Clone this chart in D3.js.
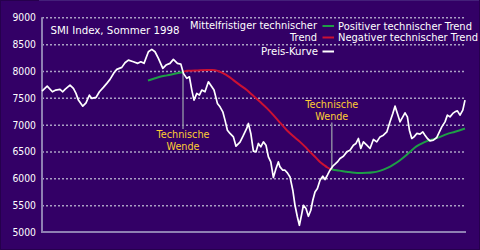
<!DOCTYPE html>
<html><head><meta charset="utf-8">
<script src="https://cdn.jsdelivr.net/npm/d3@7/dist/d3.min.js"></script>
<style>html,body{margin:0;padding:0;background:#330066;overflow:hidden}svg{display:block}</style>
</head><body><svg id="c" width="480" height="250"></svg>
<script>
// ---- data ----
const chartTitle = "SMI Index, Sommer 1998";
const yTickValues = [5000, 5500, 6000, 6500, 7000, 7500, 8000, 8500, 9000];
const priceDays = [0,2.6,5.2,6.9,9,10.4,11.5,14,15.7,17,18.2,20.4,22,23.7,24.9,27,28.7,30.7,32.4,34,36,37.4,39.9,41.5,43.2,45.7,47.9,49.4,51,53.2,54.9,56.5,58.2,60.4,62,64,65.7,67.7,69.4,70.7,72.4,73.7,74.9,76,77.4,78.7,79.9,81.5,83.2,84.9,86,87.7,89,90.4,91.5,92.7,94,95.7,97,99,100.5,102.4,103.2,104.4,105.7,107,108.2,109.4,110.7,112,113.2,114.4,115.7,117,118.2,119,120.4,121.5,122.7,124,125.4,126.5,127.7,128.7,129.9,130.7,132,133.2,134.4,135.4,136.5,137.7,139,140.4,141.5,142.7,144,145.4,146.5,147.7,149,150.7,152.4,154,155.7,157,158.2,159.4,160.7,162.4,164,165.7,167.4,169,170.7,172.4,174,175.4,176.5,177.7,179,180.4,181.5,182.7,183.7,184.9,186,187.4,189,190.4,191.5,192.7,194,195.7,197.4,198.7,199.9,201.5,202.7,204,205.4,206.5,207.7,209,210.4,211.5];
const priceValues = [7625,7718,7612,7644,7657,7612,7657,7737,7675,7582,7457,7345,7407,7550,7489,7507,7612,7694,7769,7843,7967,8030,8067,8153,8203,8172,8142,8172,8142,8358,8403,8358,8235,8049,8110,8142,8216,8142,8129,7955,7862,7892,7644,7457,7582,7550,7644,7612,7799,7705,7644,7396,7332,7239,7084,6897,6836,6772,6599,6674,6785,6935,7022,6836,6506,6493,6649,6586,6679,6617,6399,6306,6015,6183,6306,6213,6151,6151,6102,6026,5778,5498,5280,5125,5343,5498,5436,5293,5405,5591,5746,5810,5965,6039,5978,6058,6151,6226,6263,6306,6369,6412,6493,6524,6617,6649,6742,6556,6679,6617,6556,6724,6679,6772,6804,6865,7052,7209,7345,7209,7052,7145,7220,7145,6897,6742,6772,6836,6823,6865,6804,6742,6698,6711,6761,6865,6959,7052,7177,7145,7209,7239,7257,7177,7270,7457];
const trendDays = [53,56.5,59,62.5,65.7,68,70.5,72.5,76.5,79,82.5,85.5,87.5,90.7,93,95.7,99,102.4,105.5,109,112.4,115.7,119,122.4,125.7,129,131.5,134,136.5,139,141,142.7,144.9,147.4,149.9,152.4,155,157.5,160,162.5,165.7,168,170.7,173,175.7,179,182.4,184.9,187.4,190.7,194,197.4,202.4,206.5,211.5];
const trendValues = [7821,7864,7892,7918,7942,7961,7980,8004,8007,8013,8017,8017,8007,7955,7905,7830,7737,7644,7541,7425,7308,7177,7037,6897,6785,6679,6590,6493,6403,6306,6248,6202,6164,6151,6136,6123,6108,6101,6101,6103,6114,6129,6161,6198,6254,6338,6440,6524,6599,6664,6711,6748,6823,6869,6929];
const turnDays = [70.5, 144.9];           // "Technische Wende"
const turnLabel = ["Technische", "Wende"];
const legendItems = [
  {label: "Positiver technischer Trend", key: "pos"},
  {label: "Negativer technischer Trend", key: "neg"},
  {label: "Preis-Kurve", key: "price"}
];
const legendLeftText = ["Mittelfristiger technischer", "Trend"];

// ---- styles ----
const C = {bg:"#330066", grid:"#aaa0c4", axis:"#8f80b3", text:"#ffffff", pos:"#1e9e46", neg:"#cc1133", price:"#ffffff", wende:"#ffcc33", wendeLine:"#8a86a0"};
const FONT = "DejaVu Sans, Verdana, sans-serif";
const fit = (sel, w) => sel.attr("textLength", w).attr("lengthAdjust", "spacingAndGlyphs");

const svg = d3.select("#c");
svg.append("rect").attr("width",480).attr("height",250).attr("fill",C.bg);
svg.append("rect").attr("x",0.5).attr("y",0.5).attr("width",479).attr("height",249)
  .attr("fill","none").attr("stroke","#26004d").attr("stroke-width",1);
svg.append("line").attr("x1",39).attr("x2",479).attr("y1",0.5).attr("y2",0.5).attr("stroke","#44207a");

const x = d3.scaleLinear().domain([0, 212]).range([42, 466]);
const y = d3.scaleLinear().domain([5000, 9000]).range([232, 17.3]);

// gridlines
const grid = svg.append("g").attr("transform","translate(42,0)")
  .call(d3.axisRight(y).tickValues(yTickValues.filter(v=>v>5000)).tickSize(424).tickFormat(""));
grid.select(".domain").remove();
grid.selectAll("line").attr("stroke",C.grid).attr("stroke-width",1.5).attr("stroke-dasharray","2,2");

// y axis labels
const ya = svg.append("g").attr("transform","translate(42,0)")
  .call(d3.axisLeft(y).tickValues(yTickValues).tickSize(0).tickPadding(6).tickFormat(d3.format("d")));
ya.select(".domain").remove();
ya.selectAll("text").attr("fill",C.text).attr("font-family",FONT).attr("font-size",10.5)
  .attr("textLength",23.5).attr("lengthAdjust","spacingAndGlyphs");

// axis lines
svg.append("line").attr("x1",x(0)).attr("x2",x(0)).attr("y1",y(9000)).attr("y2",y(5000)+1)
  .attr("stroke",C.axis).attr("stroke-width",2);
svg.append("line").attr("x1",x(0)-1).attr("x2",x(212)).attr("y1",y(5000)).attr("y2",y(5000))
  .attr("stroke",C.axis).attr("stroke-width",2);

// turning point vertical lines + labels
const turnVal = d => trendValues[trendDays.indexOf(d)];
const turnW = [53, 33];
turnDays.forEach((d,i)=>{
  const tx = x(d), ty = y(turnVal(d));
  const below = i===0;
  const lineEnd = below ? ty+57 : ty-47;
  svg.append("line").attr("x1",tx).attr("x2",tx).attr("y1",ty).attr("y2",lineEnd)
    .attr("stroke",C.wendeLine).attr("stroke-width",1.5);
  const base = below ? lineEnd+9 : lineEnd-15;
  turnLabel.forEach((t,j)=>{
    svg.append("text").attr("x",tx).attr("y",base+j*12).attr("text-anchor","middle")
      .attr("fill",C.wende).attr("font-family",FONT).attr("font-size",10).text(t)
      .call(fit, turnW[j]);
  });
});

// trend line, split at the turning points
const trendPts = trendDays.map((d,i)=>({d, v: trendValues[i]}));
const seg = [
  {pts: trendPts.filter(p=>p.d<=turnDays[0]), c:C.pos},
  {pts: trendPts.filter(p=>p.d>=turnDays[0] && p.d<=turnDays[1]), c:C.neg},
  {pts: trendPts.filter(p=>p.d>=turnDays[1]), c:C.pos}
];
const tl = d3.line().x(p=>x(p.d)).y(p=>y(p.v)).curve(d3.curveMonotoneX);
seg.forEach(s=>svg.append("path").attr("d",tl(s.pts)).attr("fill","none")
  .attr("stroke",s.c).attr("stroke-width",2));

// price curve
const pl = d3.line().x((d,i)=>x(priceDays[i])).y(d=>y(d));
svg.append("path").attr("d",pl(priceValues)).attr("fill","none")
  .attr("stroke",C.price).attr("stroke-width",1.7).attr("stroke-linejoin","round");

// title
svg.append("text").attr("x",50.5).attr("y",34).attr("fill",C.text)
  .attr("font-family",FONT).attr("font-size",10.5).text(chartTitle).call(fit, 129);

// legend
const leftW = [127, 27];
legendLeftText.forEach((t,i)=>svg.append("text").attr("x",317).attr("y",29+i*11.5)
  .attr("text-anchor","end").attr("fill",C.text).attr("font-family",FONT).attr("font-size",10).text(t)
  .call(fit, leftW[i]));
const lgY = [26, 37.5, 51.5];
const lgW = [134, 140, 57];
const lgC = {pos:C.pos, neg:C.neg, price:C.price};
legendItems.forEach((it,i)=>{
  svg.append("line").attr("x1",322.5).attr("x2",334).attr("y1",lgY[i]).attr("y2",lgY[i])
    .attr("stroke",lgC[it.key]).attr("stroke-width",2);
  const t = svg.append("text").attr("y",lgY[i]+3.5).attr("fill",C.text)
    .attr("font-family",FONT).attr("font-size",10).text(it.label).call(fit, lgW[i]);
  if (it.key==="price") t.attr("x",318).attr("text-anchor","end");
  else t.attr("x",338);
});
</script></body></html>
